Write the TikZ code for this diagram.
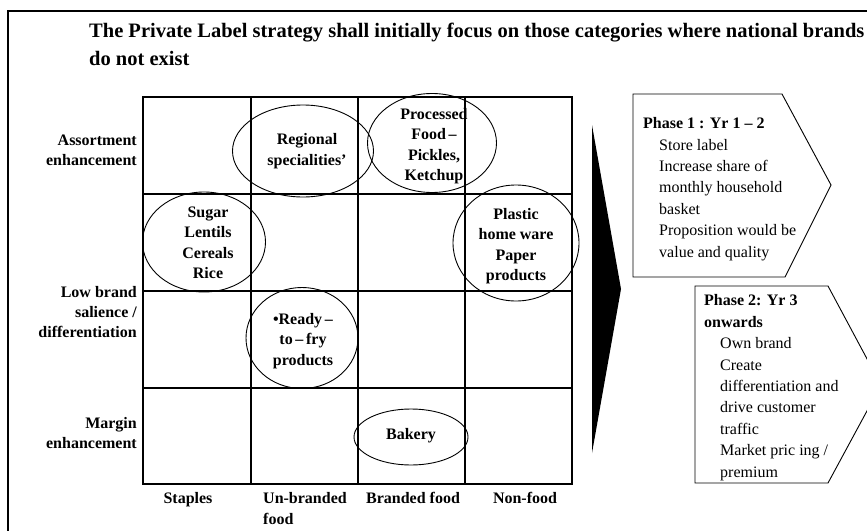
\documentclass[tikz,border=0pt]{standalone}
\usepackage{fontspec}
\setmainfont{Liberation Serif}
\usetikzlibrary{shapes.geometric}
\begin{document}
\begin{tikzpicture}[x=1pt,y=-1pt,
  gridline/.style={line width=1.5pt},
  bubble/.style={ellipse,draw,line width=0.9pt,inner sep=0pt},
  celltext/.style={font=\bfseries\fontsize{16}{20.5}\selectfont,align=center,inner sep=0pt},
  rowlab/.style={font=\bfseries\fontsize{16}{20}\selectfont,align=right,anchor=east,inner sep=0pt},
  collab/.style={font=\bfseries\fontsize{16}{21}\selectfont,inner sep=0pt},
  phase/.style={draw,line width=0.9pt},
  phasetext/.style={font=\fontsize{16}{21.4}\selectfont,align=left,anchor=base west,inner sep=0pt}]
\useasboundingbox (0,0) rectangle (867,530);
\begin{scope}
\clip (0,0) rectangle (867,530);
% frame
\draw[line width=1.5pt] (8,540) -- (8,11) -- (880,11);
% title (base anchor = last line)
\node[font=\bfseries\fontsize{20.5}{28}\selectfont,align=left,anchor=base west,inner sep=0pt] (title) at (89,65)
 {The Private Label strategy shall initially focus on those categories where national brands\\do not exist};
% grid
\draw[gridline] (143,97) rectangle (572,484);
\foreach \x in {251,358,465} \draw[gridline] (\x,97) -- (\x,484);
\foreach \y in {194,291,388} \draw[gridline] (143,\y) -- (572,\y);
% row labels
\node[rowlab] (r1) at (137,150) {Assortment\\enhancement};
\node[rowlab] (r2) at (137,312) {Low brand\\salience /\\differentiation};
\node[rowlab] (r3) at (137,433) {Margin\\enhancement};
% column labels
\node[collab,anchor=base] (c1) at (188,503) {Staples};
\node[collab,anchor=base west,align=left] (c2) at (263,524) {Un-branded\\food};
\node[collab,anchor=base] (c3) at (413,503) {Branded food};
\node[collab,anchor=base] (c4) at (525,503) {Non-food};
% bubbles
\node[bubble,minimum width=141pt,minimum height=92pt] (reg) at (303,151) {};
\node[celltext] at (307,151) {Regional\\specialities'};
\node[bubble,minimum width=129pt,minimum height=99pt] (proc) at (432,143) {};
\node[celltext] at (434,146) {Processed\\Food\,--\\Pickles,\\Ketchup};
\node[bubble,minimum width=123pt,minimum height=100pt] (sug) at (204,242) {};
\node[celltext] at (208,243) {Sugar\\Lentils\\Cereals\\Rice};
\node[bubble,minimum width=126pt,minimum height=116pt] (pla) at (516,243) {};
\node[celltext] at (516,246) {Plastic\\home ware\\Paper\\products};
\node[bubble,minimum width=112pt,minimum height=101pt] (rdy) at (302,338) {};
\node[celltext] at (303,341) {\textbullet Ready\,--\\to\,--\,fry\\products};
\node[bubble,minimum width=114pt,minimum height=56pt] (bak) at (411,437) {};
\node[celltext] at (411,436) {Bakery};
% black arrow
\fill (592,125) -- (621,289) -- (592,453) -- cycle;
% phase 1
\draw[phase] (633,94) -- (782,94) -- (831,185) -- (785,277) -- (633,277) -- cycle;
\node[phasetext] (p1) at (643,257) {\textbf{Phase 1 : Yr 1 -- 2}\\
 \hspace*{16pt}Store label\\
 \hspace*{16pt}Increase share of\\
 \hspace*{16pt}monthly household\\
 \hspace*{16pt}basket\\
 \hspace*{16pt}Proposition would be\\
 \hspace*{16pt}value and quality};
% phase 2
\draw[phase] (695,286) -- (828,286) -- (881,385) -- (828,483) -- (695,483) -- cycle;
\node[phasetext] (p2) at (704,477) {\textbf{Phase 2: Yr 3}\\
 \textbf{onwards}\\
 \hspace*{16pt}Own brand\\
 \hspace*{16pt}Create\\
 \hspace*{16pt}differentiation and\\
 \hspace*{16pt}drive customer\\
 \hspace*{16pt}traffic\\
 \hspace*{16pt}Market pric ing /\\
 \hspace*{16pt}premium};
\end{scope}
\end{tikzpicture}
\end{document}
